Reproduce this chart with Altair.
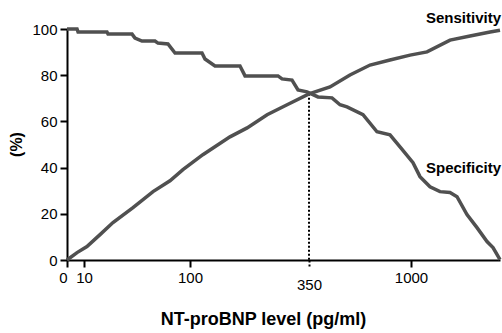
import altair as alt
import pandas as pd

# NT-proBNP level (pg/ml) and percentages
sens_x = [0, 5.9, 12.5, 23.6, 34.6, 51.6, 68.6, 83, 94, 127, 184, 220, 262, 304, 350,
          484, 611, 739, 866, 994, 1360, 1877, 2327, 2777, 3000]
sens_y = [0, 3.2, 5.8, 11.0, 16.2, 22.7, 29.6, 34.3, 39.1, 45.6, 53.3, 57.2, 62.9, 67.2, 71.9,
          74.9, 80.1, 84.4, 86.6, 88.7, 90.1, 95.2, 97.0, 98.7, 99.5]

spec_x = [0, 5.9, 6.5, 29.5, 30.4, 50.8, 53.3, 59.2, 70.3, 72.8, 81.3, 87.3, 125.2, 131.5,
          152.5, 205, 215.6, 284.9, 293.3, 314.3, 326.9, 345.8, 407.4, 496.6, 547.6, 592.2,
          694.1, 783.3, 866.2, 930, 1045, 1202, 1427, 1652, 1876, 2034, 2258, 2483, 2708,
          2843, 3000]
spec_y = [100, 100, 98.7, 98.7, 97.8, 97.8, 96.1, 94.8, 94.8, 93.9, 93.5, 89.6, 89.6, 87.0,
          84.0, 84.0, 79.7, 79.7, 78.4, 77.9, 73.6, 72.8, 70.6, 70.2, 67.2, 66.3,
          62.9, 55.5, 54.2, 49.0, 42.1, 36.1, 31.7, 29.6, 29.2, 27.4, 19.7, 14.0, 8.0,
          5.4, 0.2]

cutoff = 350
cutoff_pct = 72

x_ticks = [0, 10, 100, 350, 1000]
y_ticks = [0, 20, 40, 60, 80, 100]
x_domain = [0, 10, 100, 350, 1000, 3000]
x_range = [0, 17, 123, 242, 344, 433]

df = pd.concat([
    pd.DataFrame({"level": sens_x, "pct": sens_y, "series": "Sensitivity"}),
    pd.DataFrame({"level": spec_x, "pct": spec_y, "series": "Specificity"}),
])

FONT = "Liberation Sans"
LINE = "#505050"

x_scale = alt.Scale(domain=x_domain, range=x_range)
y_scale = alt.Scale(domain=[0, 100])

x_axis = alt.Axis(
    values=x_ticks, format="d", title="NT-proBNP level (pg/ml)",
    labelFlush=False, grid=False,
    labelPadding={"condition": {"test": "datum.value == 350", "value": 10}, "value": 3},
    labelOffset={"condition": {"test": "datum.value == 0", "value": -4}, "value": 0},
    tickDash={"condition": {"test": "datum.value == 350", "value": [2, 2]}, "value": [1, 0]},
    tickSize=7, tickWidth=2, tickColor="black", domainColor="black", domainWidth=2,
    labelFont=FONT, labelFontSize=15, labelColor="black",
    titleFont=FONT, titleFontSize=18, titleFontWeight="bold", titleColor="black",
    titleX=196, titleY=59, titleBaseline="middle", titleAlign="center",
)
y_axis = alt.Axis(
    values=y_ticks, title="(%)", grid=False,
    tickSize=7, tickWidth=2, tickColor="black", domainColor="black", domainWidth=2,
    labelPadding=3, labelFont=FONT, labelFontSize=15, labelColor="black",
    titleFont=FONT, titleFontSize=16, titleFontWeight="bold", titleColor="black",
    titleX=-51, titleY=115, titleAngle=-90, titleBaseline="middle", titleAlign="center",
)

lines = alt.Chart(df).mark_line(strokeWidth=3.5, color=LINE).encode(
    x=alt.X("level:Q", scale=x_scale, axis=x_axis),
    y=alt.Y("pct:Q", scale=y_scale, axis=y_axis),
    detail="series:N",
)

rule = alt.Chart(pd.DataFrame({"level": [cutoff], "pct": [cutoff_pct]})).mark_rule(
    color="black", strokeWidth=2, strokeDash=[2, 2]
).encode(
    x=alt.X("level:Q", scale=x_scale),
    y=alt.Y("pct:Q", scale=y_scale),
    y2=alt.datum(0),
)

sens_label = alt.Chart().mark_text(
    text="Sensitivity", font=FONT, fontSize=15, fontWeight="bold", color="black",
    align="right", baseline="alphabetic", dx=1
).encode(x=alt.datum(3000, scale=x_scale), y=alt.datum(102.6, scale=y_scale))

spec_label = alt.Chart().mark_text(
    text="Specificity", font=FONT, fontSize=15, fontWeight="bold", color="black",
    align="right", baseline="alphabetic", dx=1
).encode(x=alt.datum(3000, scale=x_scale), y=alt.datum(37.8, scale=y_scale))

chart = alt.layer(rule, lines, sens_label, spec_label).properties(
    width=433, height=231,
    autosize=alt.AutoSizeParams(type="none"),
    padding={"left": 67, "top": 29, "right": 2, "bottom": 73},
    background="white",
).configure_view(stroke=None)

chart.save("out.html", embed_options={"renderer": "svg", "actions": False})
